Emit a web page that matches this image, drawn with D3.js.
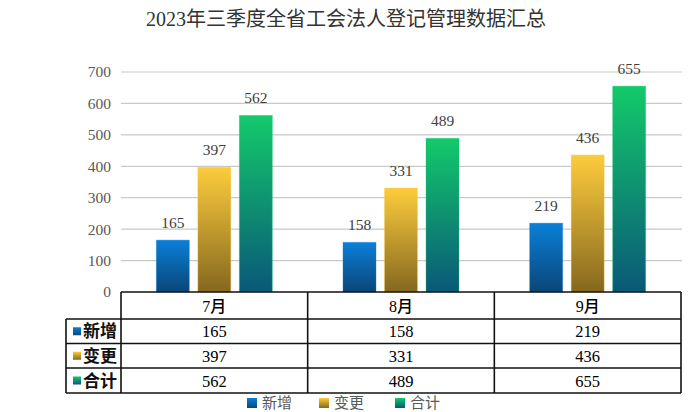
<!DOCTYPE html>
<html>
<head>
<meta charset="utf-8">
<script src="https://cdn.jsdelivr.net/npm/d3@7"></script>
<style>
  html, body { margin: 0; padding: 0; background: #fff; }
  svg { display: block; }
  text { font-family: "Liberation Serif", "Noto Sans CJK SC", serif; }
</style>
</head>
<body>
<div id="chart"></div>
<script>
// Data
const title = '2023年三季度全省工会法人登记管理数据汇总';
const months = ['7月', '8月', '9月'];
const seriesNames = ['新增', '变更', '合计'];
const added = [165, 158, 219];
const changed = [397, 331, 436];
const total = [562, 489, 655];
const yTicks = [0, 100, 200, 300, 400, 500, 600, 700];

const values = [added, changed, total];
const gradColors = [
    ['#0a7fd8', '#0a4678'],
    ['#fdcc3c', '#85681f'],
    ['#13ca6a', '#0a5878']
];

const width = 694, height = 412;
const plotLeft = 121, plotRight = 681, plotTop = 72, plotBottom = 292;

const svg = d3.select('#chart')
    .append('svg')
    .attr('width', width)
    .attr('height', height);

// Gradients for bars and legend squares
const defs = svg.append('defs');
gradColors.forEach((c, i) => {
    const g = defs.append('linearGradient')
        .attr('id', 'grad' + i)
        .attr('x1', 0).attr('y1', 0).attr('x2', 0).attr('y2', 1);
    g.append('stop').attr('offset', '0%').attr('stop-color', c[0]);
    g.append('stop').attr('offset', '100%').attr('stop-color', c[1]);
});

// Scales
const x = d3.scaleBand().domain(months).range([plotLeft, plotRight]);
const x1 = d3.scaleBand().domain(seriesNames)
    .range([-62.25, 62.25]).paddingInner(0.205).paddingOuter(0.1025);
const y = d3.scaleLinear().domain([0, 700]).range([plotBottom, plotTop]);

// Title
svg.append('text')
    .attr('x', 346)
    .attr('y', 26)
    .attr('text-anchor', 'middle')
    .attr('font-size', 20)
    .attr('fill', '#333')
    .text(title);

// Gridlines
svg.append('g')
    .selectAll('line')
    .data(yTicks.filter(d => d > 0))
    .enter()
    .append('line')
    .attr('x1', plotLeft).attr('x2', plotRight + 1)
    .attr('y1', d => y(d)).attr('y2', d => y(d))
    .attr('stroke', '#c9c9c9')
    .attr('stroke-width', 1.2);

// Y axis labels
const yAxis = d3.axisLeft(y).tickValues(yTicks).tickSize(0).tickPadding(10);
svg.append('g')
    .attr('transform', `translate(${plotLeft},0)`)
    .call(yAxis)
    .call(g => g.select('.domain').remove())
    .call(g => g.selectAll('text')
        .attr('font-size', 15.5)
        .attr('fill', '#595959')
        .attr('font-family', '"Liberation Serif", serif'));

// Bars
const groups = svg.append('g')
    .selectAll('g')
    .data(months)
    .enter()
    .append('g')
    .attr('transform', d => `translate(${x(d) + x.bandwidth() / 2},0)`);

groups.each(function (m, mi) {
    const g = d3.select(this);
    seriesNames.forEach((s, si) => {
        const v = values[si][mi];
        g.append('rect')
            .attr('x', x1(s))
            .attr('width', x1.bandwidth())
            .attr('y', y(v))
            .attr('height', y(0) - y(v))
            .attr('fill', `url(#grad${si})`)
            .attr('stroke', gradColors[si][0])
            .attr('stroke-opacity', 0.35)
            .attr('stroke-width', 1);
        g.append('text')
            .attr('x', x1(s) + x1.bandwidth() / 2)
            .attr('y', y(v) - 12)
            .attr('text-anchor', 'middle')
            .attr('font-size', 15.5)
            .attr('fill', '#404040')
            .text(v);
    });
});

// Data table
const rowY = [292, 319, 343.5, 368, 393];
const labelLeft = 66;
const table = svg.append('g')
    .attr('stroke', '#111')
    .attr('stroke-width', 1.6)
    .attr('fill', 'none');

// horizontal lines
rowY.forEach((yy, i) => {
    table.append('line')
        .attr('x1', i === 0 ? plotLeft : labelLeft)
        .attr('x2', plotRight)
        .attr('y1', yy).attr('y2', yy);
});
// vertical lines
x.domain().forEach(m => {
    table.append('line')
        .attr('x1', x(m)).attr('x2', x(m))
        .attr('y1', rowY[0]).attr('y2', rowY[4]);
});
table.append('line')
    .attr('x1', plotRight).attr('x2', plotRight)
    .attr('y1', rowY[0]).attr('y2', rowY[4]);
table.append('line')
    .attr('x1', labelLeft).attr('x2', labelLeft)
    .attr('y1', rowY[1]).attr('y2', rowY[4]);

// header cells
svg.append('g')
    .selectAll('text')
    .data(months)
    .enter()
    .append('text')
    .attr('x', d => x(d) + x.bandwidth() / 2)
    .attr('y', (rowY[0] + rowY[1]) / 2 + 6)
    .attr('text-anchor', 'middle')
    .attr('font-size', 16)
    .attr('font-weight', 500)
    .attr('fill', '#000')
    .text(d => d);

// value rows
seriesNames.forEach((s, si) => {
    const cy = (rowY[si + 1] + rowY[si + 2]) / 2;
    svg.append('rect')
        .attr('x', 73)
        .attr('y', cy - 4)
        .attr('width', 8)
        .attr('height', 8)
        .attr('fill', `url(#grad${si})`);
    svg.append('text')
        .attr('x', 83)
        .attr('y', cy + 6)
        .attr('font-size', 17)
        .attr('font-weight', 'bold')
        .attr('fill', '#111')
        .text(s);
    svg.append('g')
        .selectAll('text')
        .data(values[si])
        .enter()
        .append('text')
        .attr('x', (d, i) => x(months[i]) + x.bandwidth() / 2)
        .attr('y', cy + 6)
        .attr('text-anchor', 'middle')
        .attr('font-size', 16.5)
        .attr('fill', '#000')
        .text(d => d);
});

// Legend
const legendX = [247, 319, 395];
const legend = svg.append('g')
    .selectAll('g')
    .data(seriesNames)
    .enter()
    .append('g')
    .attr('transform', (d, i) => `translate(${legendX[i]},403)`);
legend.append('rect')
    .attr('x', 0).attr('y', -5)
    .attr('width', 10).attr('height', 10)
    .attr('fill', (d, i) => `url(#grad${i})`);
legend.append('text')
    .attr('x', 15)
    .attr('y', 5)
    .attr('font-size', 15)
    .attr('fill', '#595959')
    .text(d => d);
</script>
</body>
</html>
